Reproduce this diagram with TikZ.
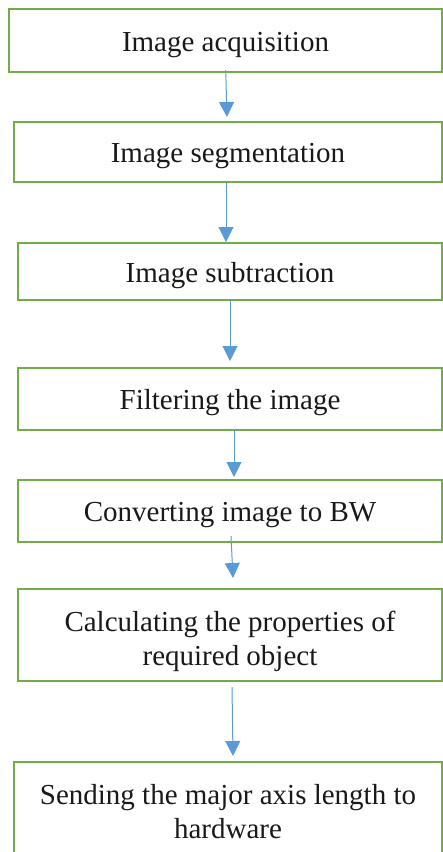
\documentclass[tikz,border=0pt]{standalone}
\usepackage{fontspec}
\setmainfont{Liberation Serif}
\usetikzlibrary{arrows.meta}
\definecolor{boxgreen}{HTML}{70AD47}
\definecolor{arrblue}{HTML}{5B9BD5}
\tikzset{
  stepbox/.style={draw=boxgreen, line width=2pt, rectangle, inner sep=0pt, align=center,
    font=\fontsize{29}{34}\selectfont, text=black!90, text height=27pt, text depth=6pt},
  twoline/.style={text height=#1, text depth=6pt},
  arr/.style={draw=arrblue, line width=1pt, -{Triangle[width=15pt,length=15pt,fill=arrblue]}}
}
\begin{document}
\begin{tikzpicture}[x=1pt,y=1pt]
\useasboundingbox (0,0) rectangle (443,-852);
\clip (0,0) rectangle (443,-852);
\node[stepbox, minimum width=433pt, minimum height=63pt] (b1) at (225.5,-40.5) {Image acquisition};
\node[stepbox, minimum width=428pt, minimum height=60pt] (b2) at (228,-152) {Image segmentation};
\node[stepbox, minimum width=424pt, minimum height=57pt] (b3) at (230,-271.5) {Image subtraction};
\node[stepbox, minimum width=424pt, minimum height=62pt] (b4) at (230,-399) {Filtering the image};
\node[stepbox, minimum width=424pt, minimum height=62pt] (b5) at (230,-511) {Converting image to BW};
\node[stepbox, twoline=66pt, minimum width=424pt, minimum height=92pt] (b6) at (230,-635) {Calculating the properties of\\required object};
\node[stepbox, twoline=58pt, minimum width=428pt, minimum height=101pt] (b7) at (228,-812.5) {Sending the major axis length to\\hardware};
\draw[arr] ([shift={(0.2,3)}]b1.south) -- ([shift={(-1,4)}]b2.north);
\draw[arr] ([shift={(-2,0)}]b2.south) -- ([shift={(-4,0)}]b3.north);
\draw[arr] ([shift={(0,2)}]b3.south) -- ([shift={(0,6)}]b4.north);
\draw[arr] ([shift={(4,2)}]b4.south) -- ([shift={(4,2)}]b5.north);
\draw[arr] ([shift={(1,7)}]b5.south) -- ([shift={(3,10)}]b6.north);
\draw[arr] ([shift={(2,-5)}]b6.south) -- ([shift={(5,5)}]b7.north);
\end{tikzpicture}
\end{document}
